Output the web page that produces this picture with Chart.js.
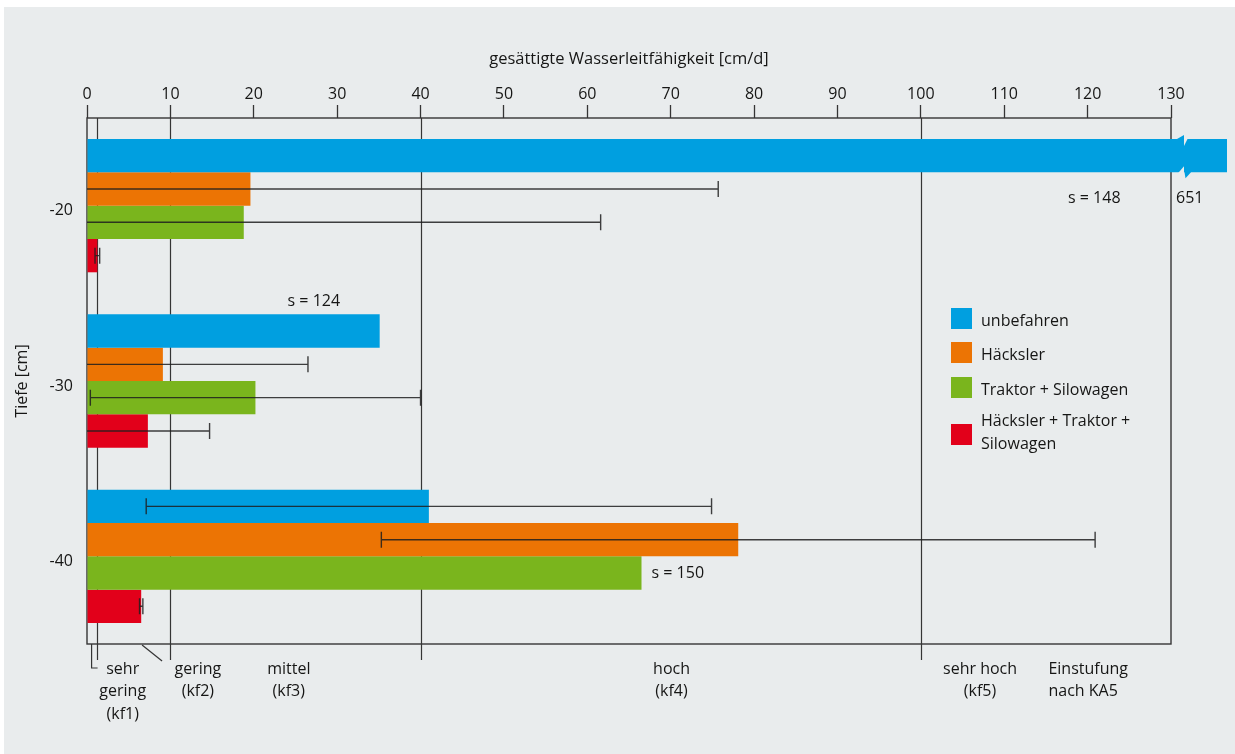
<!DOCTYPE html>
<html><head><meta charset="utf-8">
<script src="https://cdn.jsdelivr.net/npm/chart.js@4"></script>
<style>html,body{margin:0;padding:0;background:#fff;overflow:hidden}#wrap{width:1235px;height:754px;position:relative}</style>
</head><body><div id="wrap"><canvas id="c" width="1235" height="754"></canvas></div>
<script>
// ---- data ----
const depths = ['-20', '-30', '-40'];
const seriesNames = ['unbefahren', 'Häcksler', 'Traktor + Silowagen', 'Häcksler + Traktor + Silowagen'];
const unbefahren = [651, 35.1, 41.0];
const haecksler = [19.6, 9.1, 78.1];
const traktor = [18.8, 20.2, 66.5];
const kombi = [1.24, 7.3, 6.5];
const sdUnbefahren = [148, 124, 33.9];
const sdHaecksler = [56.1, 17.4, 42.8];
const sdTraktor = [42.8, 19.8, 150];
const sdKombi = [0.28, 7.4, 0.2];
const xTickValues = [0, 10, 20, 30, 40, 50, 60, 70, 80, 90, 100, 110, 120, 130];
const classBounds = [1.2, 10, 40, 100];
const classLabels = [['sehr', 'gering', '(kf1)'], ['gering', '(kf2)'], ['mittel', '(kf3)'], ['hoch', '(kf4)'], ['sehr hoch', '(kf5)']];
const classNote = ['Einstufung', 'nach KA5'];
const xTitle = 'gesättigte Wasserleitfähigkeit [cm/d]';
const yTitle = 'Tiefe [cm]';

// ---- styling ----
const colors = ['#009fe0', '#ec7404', '#7ab51d', '#e2001a'];
const FONT = '"Open Sans", "Noto Sans", sans-serif';
const TXT = '#161615';
const LINE = '#353535';
const BG = '#e9eced';

const seriesValues = [unbefahren, haecksler, traktor, kombi];
const seriesSd = [sdUnbefahren, sdHaecksler, sdTraktor, sdKombi];

const panelPlugin = {
  id: 'panel',
  beforeDraw(chart) {
    const ctx = chart.ctx;
    ctx.save();
    ctx.fillStyle = '#ffffff';
    ctx.fillRect(0, 0, chart.width, chart.height);
    ctx.fillStyle = BG;
    ctx.fillRect(4, 7, chart.width - 4, chart.height - 7);
    ctx.restore();
  }
};

const framePlugin = {
  id: 'frame',
  beforeDatasetsDraw(chart) {
    const {ctx, chartArea: a, scales: {x}} = chart;
    ctx.save();
    ctx.strokeStyle = LINE;
    ctx.lineWidth = 1.4;
    ctx.strokeRect(a.left, a.top, a.right - a.left, a.bottom - a.top);
    ctx.lineWidth = 1.2;
    classBounds.forEach(v => {
      const px = Math.round(x.getPixelForValue(v)) + 0.5;
      ctx.beginPath();
      ctx.moveTo(px, a.top);
      ctx.lineTo(px, a.bottom + 16);
      ctx.stroke();
    });
    // bracket to "sehr gering"
    const bx = x.getPixelForValue(0.55);
    ctx.beginPath();
    ctx.moveTo(bx, a.bottom);
    ctx.lineTo(bx, a.bottom + 24);
    ctx.lineTo(bx + 6, a.bottom + 24);
    ctx.stroke();
    // diagonal pointer to "gering"
    ctx.beginPath();
    ctx.moveTo(x.getPixelForValue(6.6), a.bottom + 1);
    ctx.lineTo(x.getPixelForValue(9.0), a.bottom + 17);
    ctx.stroke();
    ctx.restore();
  }
};

const overlayPlugin = {
  id: 'overlay',
  afterDatasetsDraw(chart) {
    const {ctx, chartArea: a, scales: {x}} = chart;
    const xmax = x.max;
    ctx.save();
    // error bars
    ctx.strokeStyle = 'rgba(30,30,30,0.85)';
    ctx.lineWidth = 1.4;
    seriesValues.forEach((vals, i) => {
      const meta = chart.getDatasetMeta(i);
      vals.forEach((m, j) => {
        const s = seriesSd[i][j];
        if (m + s > xmax) return;
        const el = meta.data[j];
        const yc = el.y;
        const lo = Math.max(0, m - s);
        const pxLo = x.getPixelForValue(lo), pxHi = x.getPixelForValue(m + s);
        ctx.beginPath();
        ctx.moveTo(pxLo, yc); ctx.lineTo(pxHi, yc);
        ctx.moveTo(pxHi, yc - 8); ctx.lineTo(pxHi, yc + 8);
        if (m - s >= 0) { ctx.moveTo(pxLo, yc - 8); ctx.lineTo(pxLo, yc + 8); }
        ctx.stroke();
      });
    });
    // break mark on the clipped bar
    const b = chart.getDatasetMeta(0).data[0];
    const top = b.y - b.height / 2, bot = b.y + b.height / 2;
    const bx = a.right + 13;
    ctx.fillStyle = BG;
    ctx.beginPath();
    ctx.moveTo(bx, top - 1); ctx.lineTo(bx + 4, top - 1); ctx.lineTo(bx, top + 7); ctx.closePath(); ctx.fill();
    ctx.beginPath();
    ctx.moveTo(bx - 6, bot + 1); ctx.lineTo(bx, bot + 1); ctx.lineTo(bx, bot - 6); ctx.closePath(); ctx.fill();
    ctx.fillStyle = colors[0];
    ctx.beginPath();
    ctx.moveTo(bx - 7, top); ctx.lineTo(bx, top - 4); ctx.lineTo(bx, top + 3); ctx.closePath(); ctx.fill();
    ctx.beginPath();
    ctx.moveTo(bx, bot - 3); ctx.lineTo(bx + 1.5, bot + 6); ctx.lineTo(bx + 7, bot); ctx.closePath(); ctx.fill();

    // value / sd annotations
    ctx.fillStyle = TXT;
    ctx.font = '16px ' + FONT;
    ctx.textBaseline = 'middle';
    const m0 = chart.getDatasetMeta(0), m2 = chart.getDatasetMeta(2);
    ctx.textAlign = 'left';
    ctx.fillText(String(unbefahren[0]), a.right + 5, m0.data[0].y + m0.data[0].height / 2 + 26);
    ctx.textAlign = 'center';
    ctx.fillText('s = ' + sdUnbefahren[0], x.getPixelForValue(120.8), m0.data[0].y + m0.data[0].height / 2 + 26);
    ctx.fillText('s = ' + sdUnbefahren[1], x.getPixelForValue(27.2), m0.data[1].y - m0.data[1].height / 2 - 13);
    ctx.textAlign = 'left';
    ctx.fillText('s = ' + sdTraktor[2], m2.data[2].x + 10, m2.data[2].y);

    // legend
    const lx = a.right - 220;
    const ly = [318.5, 352.5, 387.5, 434.5];
    ctx.font = '16px ' + FONT;
    seriesNames.forEach((n, i) => {
      ctx.fillStyle = colors[i];
      ctx.fillRect(lx, ly[i] - 10.5, 21, 21);
      ctx.fillStyle = TXT;
      ctx.textAlign = 'left';
      if (i === 3) {
        ctx.fillText('Häcksler + Traktor +', lx + 30, ly[i] - 13);
        ctx.fillText('Silowagen', lx + 30, ly[i] + 10);
      } else {
        ctx.fillText(n, lx + 30, ly[i] + 2.5);
      }
    });

    // class labels below
    const centers = [4.28, 13.3, 24.2, 70.1, 107.1];
    ctx.textAlign = 'center';
    classLabels.forEach((lines, i) => {
      lines.forEach((t, k) => ctx.fillText(t, x.getPixelForValue(centers[i]), a.bottom + 25 + k * 22.5));
    });
    ctx.textAlign = 'left';
    classNote.forEach((t, k) => ctx.fillText(t, x.getPixelForValue(115.3), a.bottom + 25 + k * 22.5));
    ctx.restore();
  }
};

const datasets = seriesNames.map((n, i) => ({
  label: n,
  data: seriesValues[i],
  backgroundColor: colors[i],
  borderWidth: 0,
  categoryPercentage: 0.76,
  barPercentage: 1.0,
  clip: i === 0 ? {left: 0, top: 0, right: 56, bottom: 0} : undefined
}));

new Chart(document.getElementById('c'), {
  type: 'bar',
  data: {labels: depths, datasets},
  options: {
    indexAxis: 'y',
    responsive: false,
    animation: false,
    layout: {padding: {left: 0, top: 0, right: 64, bottom: 110}},
    plugins: {legend: {display: false}, tooltip: {enabled: false}},
    scales: {
      x: {
        type: 'linear', position: 'top', min: 0, max: 130,
        afterBuildTicks: s => { s.ticks = xTickValues.map(v => ({value: v})); },
        afterFit: s => { s.height = 118; },
        ticks: {color: TXT, font: {family: FONT, size: 16}, padding: 1, maxRotation: 0},
        grid: {drawOnChartArea: false, drawTicks: true, tickLength: 13, tickColor: LINE, tickWidth: 1.3},
        border: {display: false},
        title: {display: true, text: xTitle, color: TXT, font: {family: FONT, size: 16.5}, padding: {top: 49, bottom: 0}}
      },
      y: {
        type: 'category',
        afterFit: s => { s.width = 87; },
        ticks: {color: TXT, font: {family: FONT, size: 16}, padding: 14, labelOffset: 5},
        grid: {display: false, drawTicks: false},
        border: {display: false},
        title: {display: true, text: yTitle, color: TXT, font: {family: FONT, size: 16}, padding: {top: 13, bottom: 0}}
      }
    }
  },
  plugins: [panelPlugin, framePlugin, overlayPlugin]
});
</script></body></html>
